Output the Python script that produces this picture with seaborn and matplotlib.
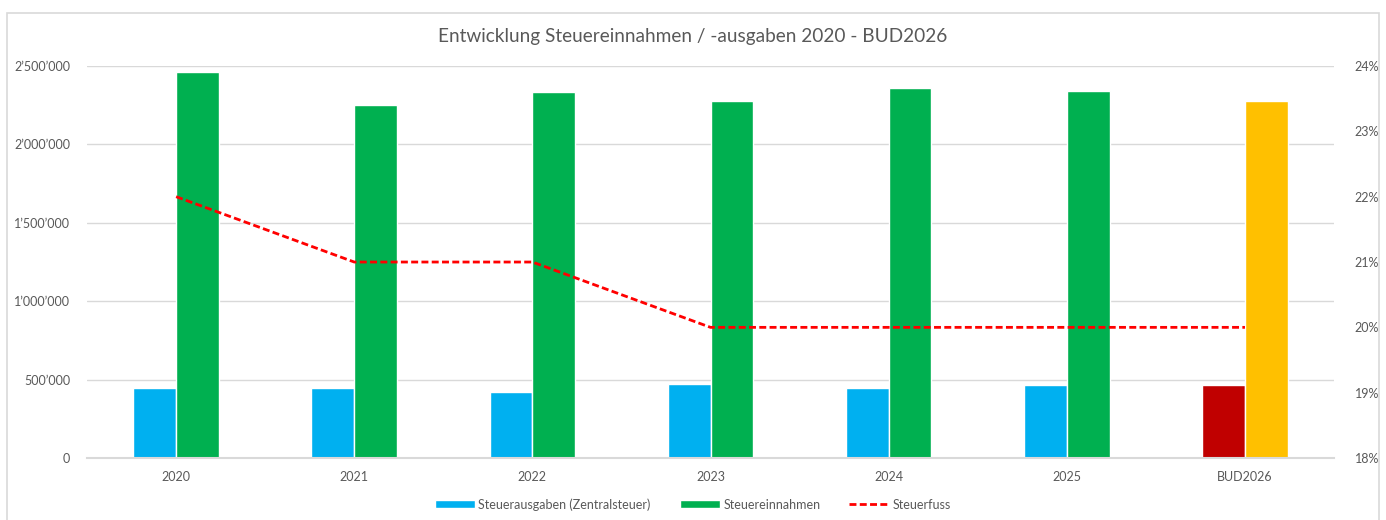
import matplotlib
matplotlib.use("Agg")
import matplotlib.pyplot as plt
import matplotlib.ticker as mticker
from matplotlib.patches import Patch, Rectangle
from matplotlib.lines import Line2D
import pandas as pd
import seaborn as sns

# values
jahre = ['2020', '2021', '2022', '2023', '2024', '2025', 'BUD2026']
ausgaben = [449000, 444000, 423000, 474000, 449000, 468000, 463000]
einnahmen = [2461000, 2249000, 2334000, 2277000, 2357000, 2340000, 2277000]
steuerfuss = [0.22, 0.21, 0.21, 0.20, 0.20, 0.20, 0.20]

serie_aus = 'Steuerausgaben (Zentralsteuer)'
serie_ein = 'Steuereinnahmen'

df = pd.DataFrame({
    'Jahr': jahre * 2,
    'Wert': ausgaben + einnahmen,
    'Serie': [serie_aus] * len(jahre) + [serie_ein] * len(jahre),
})

blau = '#00B0F0'
gruen = '#00B050'
rot_bar = '#C00000'
gelb = '#FFC000'
grau = '#595959'
gitter = '#D9D9D9'

sns.set_style('white')
plt.rcParams['font.family'] = ['Lato', 'DejaVu Sans']

fig = plt.figure(figsize=(13.86, 5.2), dpi=100)
ax = fig.add_axes([0.0628, 0.1192, 0.8997, 0.7538])

sns.barplot(data=df, x='Jahr', y='Wert', hue='Serie', order=jahre,
            palette=[blau, gruen], width=0.48, gap=0, dodge=True,
            saturation=1, ax=ax, legend=False)
# budget year is shown in other colours
ax.containers[0][-1].set_facecolor(rot_bar)
ax.containers[1][-1].set_facecolor(gelb)

ax.set_ylim(0, 2500000)
ax.yaxis.set_major_locator(mticker.MultipleLocator(500000))
ax.yaxis.set_major_formatter(mticker.FuncFormatter(
    lambda v, p: f'{int(v):,}'.replace(',', '\u2019')))
ax.grid(axis='y', color=gitter, linewidth=1)
ax.set_axisbelow(True)
for s in ['top', 'right', 'left']:
    ax.spines[s].set_visible(False)
ax.spines['bottom'].set_color(gitter)
ax.spines['bottom'].set_linewidth(1.5)
ax.tick_params(axis='both', length=0, colors=grau, labelsize=9)
ax.tick_params(axis='x', pad=9)
ax.tick_params(axis='y', pad=12)
ax.set_xlabel('')
ax.set_ylabel('')

ax2 = ax.twinx()
sns.lineplot(x=list(range(len(jahre))), y=steuerfuss, ax=ax2, color='#FF0000',
             linewidth=2, sort=False)
ax2.lines[0].set_dashes((2.5, 1.2))
ax2.set_ylim(0.18, 0.24)
ax2.yaxis.set_major_locator(mticker.MultipleLocator(0.01))
ax2.yaxis.set_major_formatter(mticker.PercentFormatter(1.0, decimals=0))
ax2.tick_params(axis='y', length=0, colors=grau, labelsize=9, pad=15)
for s in ['top', 'right', 'left', 'bottom']:
    ax2.spines[s].set_visible(False)
ax.set_xlim(-0.5, len(jahre) - 0.5)

fig.text(0.5, 0.93, 'Entwicklung Steuereinnahmen / -ausgaben 2020 - BUD2026',
         ha='center', va='center', color=grau, fontsize=13.7)

handles = [Patch(facecolor=blau), Patch(facecolor=gruen),
           Line2D([0], [0], color='#FF0000', linewidth=2, dashes=(2.5, 1.2))]
fig.legend(handles, [serie_aus, serie_ein, 'Steuerfuss'], loc='center',
           bbox_to_anchor=(0.5, 0.03), ncol=3, frameon=False, fontsize=9,
           labelcolor=grau, handlelength=3.2, handleheight=0.6,
           columnspacing=2.3, handletextpad=0.3)

fig.patches.append(Rectangle((0.005, -0.05), 0.99, 1.025, transform=fig.transFigure,
                             fill=False, edgecolor=gitter, linewidth=1.2))

fig.savefig('out.png', dpi=100)
